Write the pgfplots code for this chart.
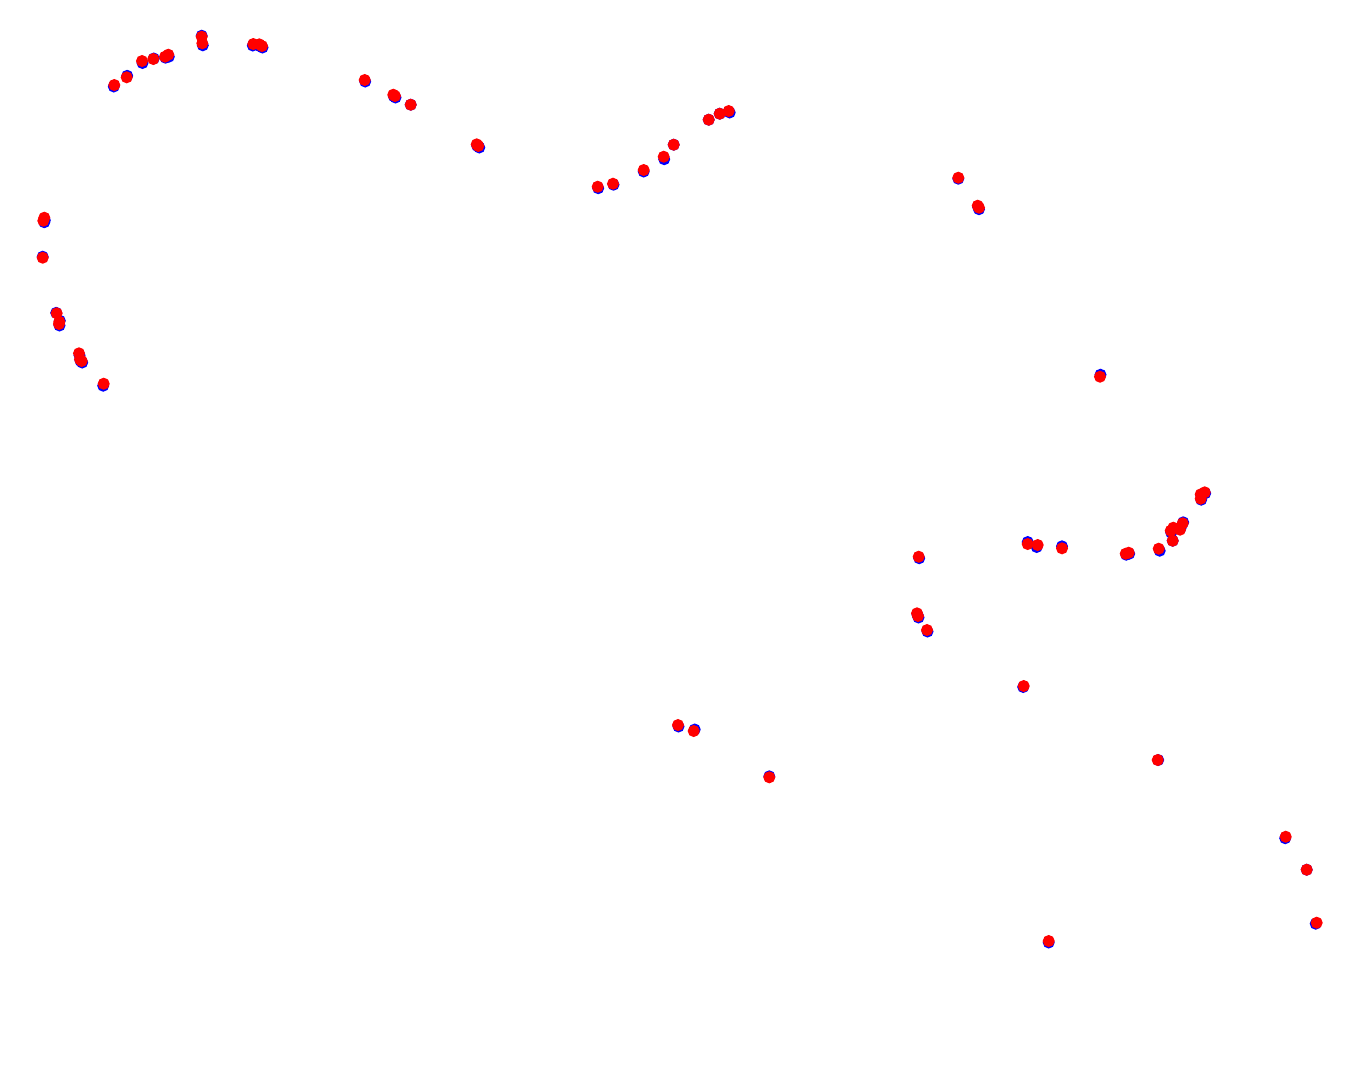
\documentclass[border=0pt]{standalone}
\usepackage{pgfplots}
\pgfplotsset{compat=1.18}
\usepackage{pgfplotstable}
\pgfplotstableread{
x y
114.3 85.0
126.7 77.3
142.0 61.0
153.3 59.0
165.0 56.7
168.3 54.7
201.7 36.7
202.3 43.3
253.3 44.0
259.3 44.3
262.0 46.0
44.3 217.7
43.3 220.7
42.7 257.7
56.7 313.3
59.3 321.7
59.0 324.0
79.0 353.3
80.0 359.3
81.7 361.0
103.7 383.7
364.7 80.0
393.3 94.7
395.0 96.0
410.7 104.7
476.7 144.3
478.3 146.0
597.7 186.7
613.0 183.7
643.7 170.0
663.7 156.7
673.7 144.7
708.7 119.7
719.7 113.7
728.7 111.0
958.3 177.7
977.7 205.7
979.0 207.7
1100.0 376.7
918.7 556.7
1027.7 544.0
1037.7 545.0
1062.0 548.3
1125.7 553.7
1128.7 552.7
1158.7 548.7
1172.7 540.7
1170.7 530.7
1173.3 527.7
1180.0 529.7
1182.7 523.3
1200.7 498.7
1200.7 494.3
1204.7 492.3
917.0 613.3
918.0 616.0
927.0 630.0
1023.7 686.0
678.0 725.0
693.7 731.0
769.3 777.3
1157.7 760.0
1285.7 836.7
1306.7 869.7
1316.7 922.7
1048.7 941.0
}\redpts
\pgfplotstableread{
x y
113.8 86.5
127.2 75.8
142.5 63.0
153.8 58.5
165.5 57.7
168.8 56.7
201.7 35.7
202.8 45.3
252.8 45.5
260.3 46.3
262.5 47.5
44.8 220.2
44.3 222.2
42.7 256.7
56.2 312.8
59.8 320.7
59.5 325.5
79.5 355.3
80.5 360.8
82.2 362.5
103.2 385.7
365.2 81.5
393.8 96.2
395.5 97.5
410.7 104.7
477.2 145.8
479.3 147.5
598.2 188.2
613.5 184.7
643.7 171.5
664.2 159.2
673.7 144.7
708.7 119.7
719.7 113.7
729.7 112.5
958.3 178.7
978.2 207.2
979.0 209.2
1100.5 374.7
919.2 558.2
1027.7 542.0
1036.7 547.0
1062.0 546.3
1126.2 554.7
1129.2 553.7
1159.7 550.7
1172.7 540.7
1171.2 532.7
1173.8 529.2
1180.5 528.2
1183.2 522.3
1201.2 499.7
1201.2 495.3
1205.2 493.3
917.5 614.8
918.5 617.5
927.5 631.5
1023.2 687.0
678.5 726.5
694.7 729.5
769.3 776.3
1158.2 760.0
1285.2 838.2
1306.7 869.7
1315.7 923.7
1048.7 942.5
}\bluepts
\begin{document}
\begin{tikzpicture}
\begin{axis}[
  scale only axis,
  width=13.59cm, height=10.64cm,
  xmin=0, xmax=1359, ymin=0, ymax=1064,
  y dir=reverse,
  hide axis,
  clip=false,
]
\path (rel axis cs:0,0) rectangle (rel axis cs:1,1);
\addplot[only marks, mark=*, mark size=1.5pt, blue, mark options={draw=blue, fill=blue}] table[x=x,y=y] {\bluepts};
\addplot[only marks, mark=*, mark size=1.5pt, red, mark options={draw=red, fill=red}] table[x=x,y=y] {\redpts};
\end{axis}
\end{tikzpicture}
\end{document}
